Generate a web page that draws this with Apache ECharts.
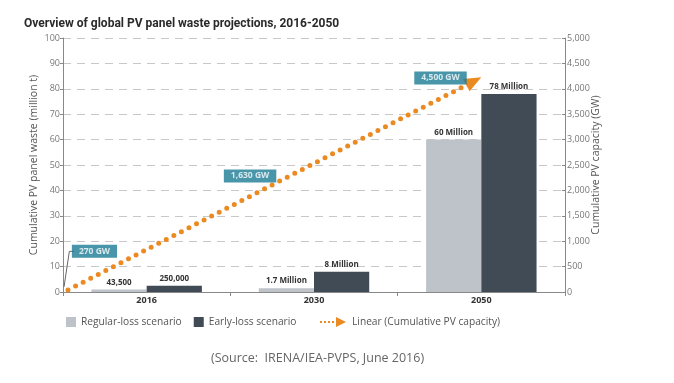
<!DOCTYPE html>
<html><head><meta charset="utf-8">
<script src="https://cdn.jsdelivr.net/npm/echarts@6/dist/echarts.min.js"></script>
<style>html,body{margin:0;padding:0;background:#fff}#c{width:674px;height:383px}</style>
</head><body><div id="c"></div>
<script>
const categories = ['2016', '2030', '2050'];
const regularLoss = [1.0, 1.5, 60];
const earlyLoss = [2.5, 8, 78];
const regularLabels = ['43,500', '1.7 Million', '60 Million'];
const earlyLabels = ['250,000', '8 Million', '78 Million'];
// linear trend of cumulative PV capacity (x in category units 0..3, y in GW)
const trendX = [0.03, 2.455];
const trendY = [40, 4150];
// capacity callouts
const calloutText = ['270 GW', '1,630 GW', '4,500 GW'];
const calloutX = [0.188, 1.118, 2.256];
const calloutY = [800, 2283, 4213];
const leftTicks = [0, 100, 10];
const rightTicks = [0, 5000, 500];

const F = 'Open Sans';
const chart = echarts.init(document.getElementById('c'));
chart.setOption({
  animation: false,
  textStyle: {fontFamily: F},
  title: [
    {text: 'Overview of global PV panel waste projections, 2016-2050', left: 19, top: 13,
     textStyle: {fontFamily: 'Roboto', fontSize: 12, fontWeight: 'bold', color: '#2a2a2a'}},
    {text: '(Source:  IRENA/IEA-PVPS, June 2016)', left: 206, top: 347,
     textStyle: {fontFamily: F, fontSize: 12.5, fontWeight: 'normal', color: '#666'}}
  ],
  grid: {left: 63, right: 109, top: 38, bottom: 91},
  legend: [
    {left: 61, top: 312, itemWidth: 10, itemHeight: 10, itemGap: 12, icon: 'rect',
     data: ['Regular-loss scenario', 'Early-loss scenario'],
     textStyle: {fontFamily: F, fontSize: 10.2, color: '#555'}},
    {left: 315, top: 312, itemWidth: 28, itemHeight: 10,
     data: [{name: 'Linear (Cumulative PV capacity)',
       icon: 'path://M1,4h2v2h-2z M5,4h2v2h-2z M9,4h2v2h-2z M13,4h2v2h-2z M17,0 L27,5 L17,10z'}],
     textStyle: {fontFamily: F, fontSize: 10.2, color: '#555'}}
  ],
  xAxis: [
    {type: 'category', data: categories, gridIndex: 0,
     axisLine: {lineStyle: {color: '#888'}},
     axisTick: {show: true, length: 4, lineStyle: {color: '#888'}},
     axisLabel: {fontFamily: F, fontSize: 9, fontWeight: 'bold', color: '#333', margin: 4}},
    {type: 'value', min: 0, max: 3, show: false}
  ],
  yAxis: [
    {type: 'value', min: leftTicks[0], max: leftTicks[1], interval: leftTicks[2],
     name: 'Cumulative PV panel waste (million t)', nameLocation: 'middle', nameGap: 23,
     nameMoveOverlap: false,
     nameTextStyle: {fontFamily: F, fontSize: 10.5, color: '#555'},
     axisLine: {show: true, lineStyle: {color: '#888'}},
     axisTick: {show: true, length: 3, lineStyle: {color: '#888'}},
     axisLabel: {fontFamily: F, fontSize: 9, color: '#777', margin: 3},
     splitLine: {lineStyle: {color: '#c8c8c8', type: [8, 6]}}},
    {type: 'value', min: rightTicks[0], max: rightTicks[1], interval: rightTicks[2],
     name: 'Cumulative PV capacity (GW)', nameLocation: 'middle', nameGap: 26,
     nameMoveOverlap: false,
     nameTextStyle: {fontFamily: F, fontSize: 10.5, color: '#555'},
     axisLine: {show: true, lineStyle: {color: '#888'}},
     axisTick: {show: true, length: 3, inside: true, lineStyle: {color: '#888'}},
     axisLabel: {fontFamily: F, fontSize: 9, color: '#777', margin: 2,
       formatter: v => v.toLocaleString('en-US')},
     splitLine: {show: false}}
  ],
  series: [
    {name: 'Regular-loss scenario', type: 'bar', data: regularLoss, barGap: '0%', barCategoryGap: '34%',
     itemStyle: {color: '#bec3c9'},
     label: {show: true, position: 'top', distance: 3, fontFamily: F, fontSize: 8, fontWeight: 'bold', color: '#333',
       formatter: p => regularLabels[p.dataIndex]}},
    {name: 'Early-loss scenario', type: 'bar', data: earlyLoss,
     itemStyle: {color: '#414b56'},
     label: {show: true, position: 'top', distance: 3, fontFamily: F, fontSize: 8, fontWeight: 'bold', color: '#333',
       formatter: p => earlyLabels[p.dataIndex]}},
    {name: 'Linear (Cumulative PV capacity)', type: 'line', xAxisIndex: 1, yAxisIndex: 1,
     itemStyle: {color: '#ec8a22'},
     lineStyle: {color: '#ec8a22', width: 5, type: [0, 8.5], cap: 'round'},
     showSymbol: true,
     data: [
       {value: [trendX[0], trendY[0]], symbol: 'none'},
       {value: [trendX[1], trendY[1]], symbol: 'triangle', symbolSize: [14, 17], symbolRotate: -62}
     ], z: 5},
    {name: 'callout', type: 'line', xAxisIndex: 1, yAxisIndex: 1, symbol: 'none',
     lineStyle: {color: '#666', width: 1}, silent: true,
     data: [[calloutX[0] - 0.12, calloutY[0]], [calloutX[0] - 0.15, calloutY[0]], [0.006, 100]], z: 4},
    {name: 'callouts', type: 'scatter', xAxisIndex: 1, yAxisIndex: 1, symbolSize: 0, silent: true,
     data: calloutX.map((x, i) => [x, calloutY[i]]),
     label: {show: true, position: 'inside', formatter: p => calloutText[p.dataIndex],
       backgroundColor: '#1b7a95', color: '#fff', fontFamily: F, fontSize: 8.5, fontWeight: 'bold',
       padding: [2, 7, 2, 7], lineHeight: 9}, z: 6}
  ]
});
</script></body></html>
